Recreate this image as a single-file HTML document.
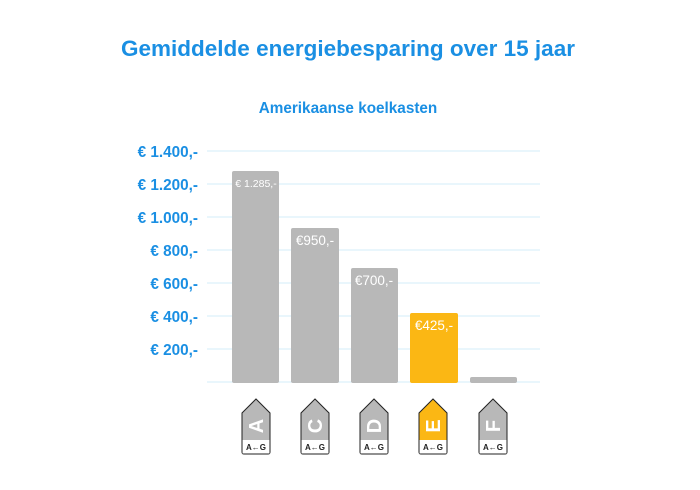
<!DOCTYPE html>
<html><head><style>
body{margin:0;width:700px;height:485px;background:#fff;font-family:"Liberation Sans",sans-serif;overflow:hidden}
</style></head><body>
<svg width="700" height="485" xmlns="http://www.w3.org/2000/svg" font-family="Liberation Sans, sans-serif">
<text x="348" y="56" text-anchor="middle" font-size="22.5" font-weight="bold" fill="#1a8fe3">Gemiddelde energiebesparing over 15 jaar</text>
<text x="348" y="113" text-anchor="middle" font-size="15.3" font-weight="bold" fill="#1a8fe3">Amerikaanse koelkasten</text>
<g stroke="#d3ecf9" stroke-width="1">
<line x1="207" x2="540" y1="151" y2="151"/><line x1="207" x2="540" y1="184" y2="184"/>
<line x1="207" x2="540" y1="217" y2="217"/><line x1="207" x2="540" y1="250" y2="250"/>
<line x1="207" x2="540" y1="283" y2="283"/><line x1="207" x2="540" y1="316" y2="316"/>
<line x1="207" x2="540" y1="349" y2="349"/><line x1="207" x2="540" y1="382" y2="382"/>
</g>
<g font-size="15.3" font-weight="bold" fill="#1a8fe3" text-anchor="end">
<text x="198" y="157">€ 1.400,-</text><text x="198" y="190">€ 1.200,-</text>
<text x="198" y="223">€ 1.000,-</text><text x="198" y="256">€ 800,-</text>
<text x="198" y="289">€ 600,-</text><text x="198" y="322">€ 400,-</text>
<text x="198" y="355">€ 200,-</text>
</g>
<rect x="232" y="171" width="47" height="212" rx="2" fill="#b8b8b8"/>
<rect x="291" y="228" width="48" height="155" rx="2" fill="#b8b8b8"/>
<rect x="351" y="268" width="47" height="115" rx="2" fill="#b8b8b8"/>
<rect x="410" y="313" width="48" height="70" rx="2" fill="#fbb714"/>
<rect x="470" y="377" width="47" height="6" rx="2" fill="#b8b8b8"/>
<g fill="#fff" text-anchor="middle">
<text x="256" y="187" font-size="10.5">€ 1.285,-</text>
<text x="315" y="245" font-size="13.5">€950,-</text>
<text x="374" y="285" font-size="13.5">€700,-</text>
<text x="434" y="330" font-size="13.5">€425,-</text>
</g>
<g>
<g transform="translate(256,0)"><path d="M-14,413 L0,399 L14,413 L14,452 Q14,454 12,454 L-12,454 Q-14,454 -14,452 Z" fill="#b8b8b8" stroke="#222" stroke-width="1"/><rect x="-13.5" y="440" width="27" height="13.5" fill="#fff"/><text transform="translate(7,426) rotate(-90)" text-anchor="middle" font-size="20" font-weight="bold" fill="#fff">A</text><text x="0" y="450" text-anchor="middle" font-size="8" font-weight="bold" fill="#222">A←G</text></g>
<g transform="translate(315,0)"><path d="M-14,413 L0,399 L14,413 L14,452 Q14,454 12,454 L-12,454 Q-14,454 -14,452 Z" fill="#b8b8b8" stroke="#222" stroke-width="1"/><rect x="-13.5" y="440" width="27" height="13.5" fill="#fff"/><text transform="translate(7,426) rotate(-90)" text-anchor="middle" font-size="20" font-weight="bold" fill="#fff">C</text><text x="0" y="450" text-anchor="middle" font-size="8" font-weight="bold" fill="#222">A←G</text></g>
<g transform="translate(374,0)"><path d="M-14,413 L0,399 L14,413 L14,452 Q14,454 12,454 L-12,454 Q-14,454 -14,452 Z" fill="#b8b8b8" stroke="#222" stroke-width="1"/><rect x="-13.5" y="440" width="27" height="13.5" fill="#fff"/><text transform="translate(7,426) rotate(-90)" text-anchor="middle" font-size="20" font-weight="bold" fill="#fff">D</text><text x="0" y="450" text-anchor="middle" font-size="8" font-weight="bold" fill="#222">A←G</text></g>
<g transform="translate(433,0)"><path d="M-14,413 L0,399 L14,413 L14,452 Q14,454 12,454 L-12,454 Q-14,454 -14,452 Z" fill="#fbb714" stroke="#222" stroke-width="1"/><rect x="-13.5" y="440" width="27" height="13.5" fill="#fff"/><text transform="translate(7,426) rotate(-90)" text-anchor="middle" font-size="20" font-weight="bold" fill="#fff">E</text><text x="0" y="450" text-anchor="middle" font-size="8" font-weight="bold" fill="#222">A←G</text></g>
<g transform="translate(493,0)"><path d="M-14,413 L0,399 L14,413 L14,452 Q14,454 12,454 L-12,454 Q-14,454 -14,452 Z" fill="#b8b8b8" stroke="#222" stroke-width="1"/><rect x="-13.5" y="440" width="27" height="13.5" fill="#fff"/><text transform="translate(7,426) rotate(-90)" text-anchor="middle" font-size="20" font-weight="bold" fill="#fff">F</text><text x="0" y="450" text-anchor="middle" font-size="8" font-weight="bold" fill="#222">A←G</text></g>
</g>
</svg>
</body></html>
